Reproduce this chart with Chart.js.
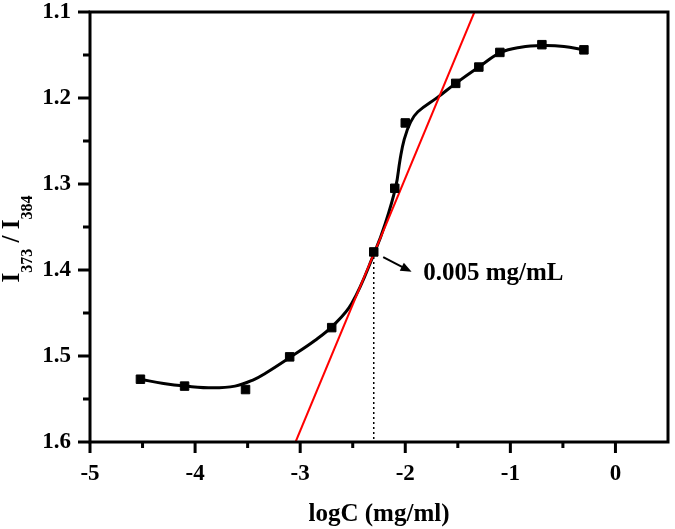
<!DOCTYPE html>
<html>
<head>
<meta charset="utf-8">
<script src="https://cdn.jsdelivr.net/npm/chart.js@4.4.1/dist/chart.umd.min.js"></script>
<style>
  html, body { margin: 0; padding: 0; background: #fff; }
  #wrap { width: 675px; height: 529px; }
</style>
</head>
<body>
<div id="wrap"><canvas id="chart" width="675" height="529"></canvas></div>
<script>
// measured points (logC vs I373/I384)
const logC = [-4.52, -4.10, -3.52, -3.10, -2.70, -2.30, -2.10, -2.00, -1.52, -1.30, -1.10, -0.70, -0.30];
const ratio = [1.527, 1.535, 1.539, 1.501, 1.467, 1.379, 1.305, 1.229, 1.183, 1.164, 1.147, 1.138, 1.144];

// smoothed curve
const fitX = [-4.52, -4.30, -4.09, -3.83, -3.62, -3.45, -3.33, -3.09, -2.86, -2.69, -2.51, -2.29, -2.19, -2.09, -2.05, -2.01, -1.95, -1.88, -1.69, -1.52, -1.30, -1.09, -0.90, -0.70, -0.49, -0.30];
const fitY = [1.527, 1.532, 1.535, 1.537, 1.535, 1.528, 1.520, 1.501, 1.482, 1.465, 1.439, 1.379, 1.346, 1.303, 1.272, 1.248, 1.228, 1.216, 1.199, 1.183, 1.164, 1.147, 1.141, 1.139, 1.140, 1.144];

// red tangent line
const tangentX = [-3.044, -1.342];
const tangentY = [1.6, 1.1];

// marked point and its label
const markX = [-2.30, -2.30];
const markY = [1.379, 1.6];
const markLabel = "0.005 mg/mL";
const arrowFrom = [-2.21, 1.385];
const arrowTo = [-1.94, 1.402];
const labelAt = [-1.83, 1.404];

// axes
const xTicks = [-5, -4, -3, -2, -1, 0];
const yTicks = [1.1, 1.2, 1.3, 1.4, 1.5, 1.6];
const xTitle = "logC (mg/ml)";

const serif = "'Liberation Serif', 'Times New Roman', serif";
const toPts = (xs, ys) => xs.map((x, i) => ({ x: x, y: ys[i] }));
const isIn = (list, v) => list.some((t) => Math.abs(t - v) < 1e-6);

// keep the plot box where the figure has it
const noPad = (s) => {
  s.paddingLeft = 0;
  s.paddingRight = 0;
  s.paddingTop = 0;
  s.paddingBottom = 0;
};

const frame = {
  id: "frame",
  afterDraw(chart) {
    const ctx = chart.ctx;
    const a = chart.chartArea;
    const xs = chart.scales.x;
    const ys = chart.scales.y;
    ctx.save();
    ctx.strokeStyle = "#000";
    ctx.lineWidth = 3;

    // outward ticks, long for labelled values
    ctx.beginPath();
    xs.ticks.forEach((t) => {
      if (t.value > 0.25) return;
      const px = xs.getPixelForValue(t.value);
      const len = isIn(xTicks, t.value) ? 11 : 6;
      ctx.moveTo(px, a.bottom);
      ctx.lineTo(px, a.bottom + len);
    });
    ys.ticks.forEach((t) => {
      const py = ys.getPixelForValue(t.value);
      const len = isIn(yTicks, t.value) ? 12 : 7;
      ctx.moveTo(a.left, py);
      ctx.lineTo(a.left - len, py);
    });
    ctx.stroke();
    ctx.strokeRect(a.left, a.top, a.right - a.left, a.bottom - a.top);

    // arrow to the label
    const x0 = xs.getPixelForValue(arrowFrom[0]);
    const y0 = ys.getPixelForValue(arrowFrom[1]);
    const x1 = xs.getPixelForValue(arrowTo[0]);
    const y1 = ys.getPixelForValue(arrowTo[1]);
    const ang = Math.atan2(y1 - y0, x1 - x0);
    ctx.lineWidth = 2;
    ctx.beginPath();
    ctx.moveTo(x0, y0);
    ctx.lineTo(x1 - 8 * Math.cos(ang), y1 - 8 * Math.sin(ang));
    ctx.stroke();
    ctx.fillStyle = "#000";
    ctx.beginPath();
    ctx.moveTo(x1, y1);
    ctx.lineTo(x1 - 11 * Math.cos(ang) + 4.5 * Math.sin(ang), y1 - 11 * Math.sin(ang) - 4.5 * Math.cos(ang));
    ctx.lineTo(x1 - 11 * Math.cos(ang) - 4.5 * Math.sin(ang), y1 - 11 * Math.sin(ang) + 4.5 * Math.cos(ang));
    ctx.closePath();
    ctx.fill();

    ctx.font = "bold 25px " + serif;
    ctx.textAlign = "left";
    ctx.textBaseline = "middle";
    ctx.fillText(markLabel, xs.getPixelForValue(labelAt[0]), ys.getPixelForValue(labelAt[1]));

    // y title with subscripts, rotated
    const big = "bold 25px " + serif;
    const small = "bold 16px " + serif;
    const parts = [["I", big, 0], ["373", small, 13], [" / ", big, 0], ["I", big, 0], ["384", small, 13]];
    let total = 0;
    parts.forEach((p) => { ctx.font = p[1]; total += ctx.measureText(p[0]).width; });
    ctx.translate(19, 239);
    ctx.rotate(-Math.PI / 2);
    ctx.textBaseline = "alphabetic";
    let cx = -total / 2;
    parts.forEach((p) => {
      ctx.font = p[1];
      ctx.fillText(p[0], cx, p[2]);
      cx += ctx.measureText(p[0]).width;
    });
    ctx.restore();
  },
};

new Chart("chart", {
  type: "scatter",
  data: {
    datasets: [
      {
        data: toPts(logC, ratio),
        showLine: false,
        pointStyle: "rect",
        pointRadius: 6,
        pointBorderWidth: 1,
        backgroundColor: "#000",
        borderColor: "#000",
        order: 0,
      },
      {
        data: toPts(tangentX, tangentY),
        showLine: true,
        borderColor: "#ff0000",
        borderWidth: 2,
        pointRadius: 0,
        order: 1,
      },
      {
        data: toPts(fitX, fitY),
        showLine: true,
        borderColor: "#000",
        borderWidth: 3,
        pointRadius: 0,
        tension: 0.4,
        order: 2,
      },
      {
        data: toPts(markX, markY),
        showLine: true,
        borderColor: "#000",
        borderWidth: 1.5,
        borderDash: [2, 3],
        pointRadius: 0,
        order: 3,
      },
    ],
  },
  options: {
    responsive: false,
    animation: false,
    layout: { padding: { top: 12, right: 4, left: 0, bottom: 0 } },
    plugins: { legend: { display: false }, tooltip: { enabled: false } },
    scales: {
      x: {
        min: -5,
        max: 0.5,
        grid: { display: true, drawOnChartArea: false, drawTicks: false },
        border: { display: false },
        ticks: {
          stepSize: 0.5,
          autoSkip: false,
          maxRotation: 0,
          padding: 18,
          color: "#000",
          font: { family: serif, size: 23, weight: "bold" },
          callback: (v) => (isIn(xTicks, v) ? String(Math.round(v)) : ""),
        },
        title: {
          display: true,
          text: xTitle,
          color: "#000",
          font: { family: serif, size: 25, weight: "bold", lineHeight: 1 },
          padding: { top: 0, bottom: 2 },
        },
        afterFit: (s) => { s.height = 87; noPad(s); },
      },
      y: {
        min: 1.1,
        max: 1.6,
        reverse: true,
        grid: { display: true, drawOnChartArea: false, drawTicks: false },
        border: { display: false },
        ticks: {
          stepSize: 0.05,
          autoSkip: false,
          padding: 19,
          color: "#000",
          font: { family: serif, size: 23, weight: "bold" },
          callback: (v) => (isIn(yTicks, v) ? v.toFixed(1) : ""),
        },
        afterFit: (s) => { s.width = 90; noPad(s); },
      },
    },
  },
  plugins: [frame],
});
</script>
</body>
</html>
